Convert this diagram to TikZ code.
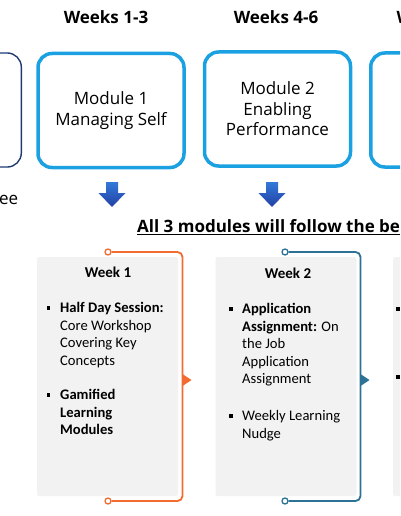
\documentclass[tikz,border=0pt]{standalone}
\usepackage{fontspec}
\setmainfont{Open Sans}
\newfontfamily\cardfont{Carlito}
\usepackage{tikz}
\usetikzlibrary{arrows.meta,positioning}
\definecolor{modblue}{HTML}{1BA1E2}
\definecolor{navy}{HTML}{1F3A73}
\definecolor{wkorange}{HTML}{F26B30}
\definecolor{wkteal}{HTML}{2D7194}
\definecolor{cardgray}{HTML}{F2F2F2}
\definecolor{arrtop}{HTML}{2F7AD8}
\definecolor{arrbot}{HTML}{263FA4}

\begin{document}
\begin{tikzpicture}[x=1pt, y=-1pt, module/.style={draw=modblue, line width=3.5pt, rounded corners=14pt, minimum width=146pt, minimum height=114pt, align=center, font=\fontsize{17}{20.5}\selectfont}, week/.style={font=\bfseries\fontsize{17}{20}\selectfont}, downarr/.style={top color=arrtop, bottom color=arrbot}, card/.style={fill=cardgray, rounded corners=2pt, minimum width=141pt, minimum height=239pt}, cardtitle/.style={font=\cardfont\bfseries\fontsize{15}{17}\selectfont}, item/.style={anchor=north west, inner sep=0pt, align=left, font=\cardfont\fontsize{14.6}{17.4}\selectfont}, sq/.style={fill=black, minimum size=3.5pt, inner sep=0pt}, dot/.style={circle, draw=#1, fill=white, line width=1.3pt, inner sep=0pt, minimum size=6pt}, link/.style={draw=#1, line width=1.8pt, rounded corners=5pt}]
\useasboundingbox (0,0) rectangle (400,516);
\clip (0,0) rectangle (400,516);
% week headings
\node[week] (wk13) at (106,17) {Weeks 1-3};
\node[week] (wk46) at (276,17) {Weeks 4-6};
\node[week, anchor=west] (wk79) at (393,17) {W};
% module boxes
\node[module, draw=navy, line width=1.4pt, anchor=east] (mod0) at (22,110) {};
\node[module] (mod1) at (111,110.5) {Module 1\\Managing Self};
\node[module] (mod2) at (277.5,109) {Module 2\\Enabling\\Performance};
\node[module, anchor=west] (mod3) at (369,110) {};
\node[anchor=west, inner sep=0pt, font=\fontsize{17}{20}\selectfont] (note0) at (-1,200) {ee};
% block arrows
\coordinate (arr1) at (112,182);
\coordinate (arr2) at (272,182);
\foreach \a in {arr1,arr2}
  \shade[downarr] (\a) ++(-6,0) -- ++(12,0) -- ++(0,11) -- ++(7.5,0) -- ++(-13.5,14) -- ++(-13.5,-14) -- ++(7.5,0) -- cycle;
\node[anchor=west, inner sep=0pt, font=\bfseries\fontsize{17}{20}\selectfont] (rule) at (137,227) {\underline{All 3 modules will follow the be}};
% week cards
\node[card] (card1) at (107.5,376.5) {};
\node[card] (card2) at (286,376.5) {};
\node[card, anchor=west] (card3) at (393,376.5) {};
\node[cardtitle] (t1) at (108,272) {Week 1};
\node[cardtitle] (t2) at (288,273) {Week 2};
\node[sq] (b11) at (48.5,308) {};
\node[item] (i11) at (60,302.5) {\textbf{Half Day Session:}\\Core Workshop\\Covering Key\\Concepts};
\node[sq] (b12) at (48.5,395) {};
\node[item] (i12) at (60,389.5) {\textbf{Gamified}\\\textbf{Learning}\\\textbf{Modules}};
\node[sq] (b21) at (231,309) {};
\node[item] (i21) at (242,303.5) {\textbf{Application}\\\textbf{Assignment:} On\\the Job\\Application\\Assignment};
\node[sq] (b22) at (231,416) {};
\node[item] (i22) at (242,410.5) {Weekly Learning\\Nudge};
\node[sq] (b31) at (398,309) {};
\node[sq] (b32) at (398,377) {};
% connectors round the cards
\node[dot=wkorange] (p1a) at (108,252) {};
\node[dot=wkorange] (p1b) at (108,501) {};
\coordinate (p1m) at (182.5,380);
\draw[link=wkorange] (p1a) -| (p1m) |- (p1b);
\fill[wkorange] (p1m) ++(0,-6) -- ++(9,6) -- ++(-9,6) -- cycle;
\node[dot=wkteal] (p2a) at (285,252) {};
\node[dot=wkteal] (p2b) at (285,501) {};
\coordinate (p2m) at (360.5,380);
\draw[link=wkteal] (p2a) -| (p2m) |- (p2b);
\fill[wkteal] (p2m) ++(0,-6) -- ++(9,6) -- ++(-9,6) -- cycle;
\end{tikzpicture}
\end{document}
